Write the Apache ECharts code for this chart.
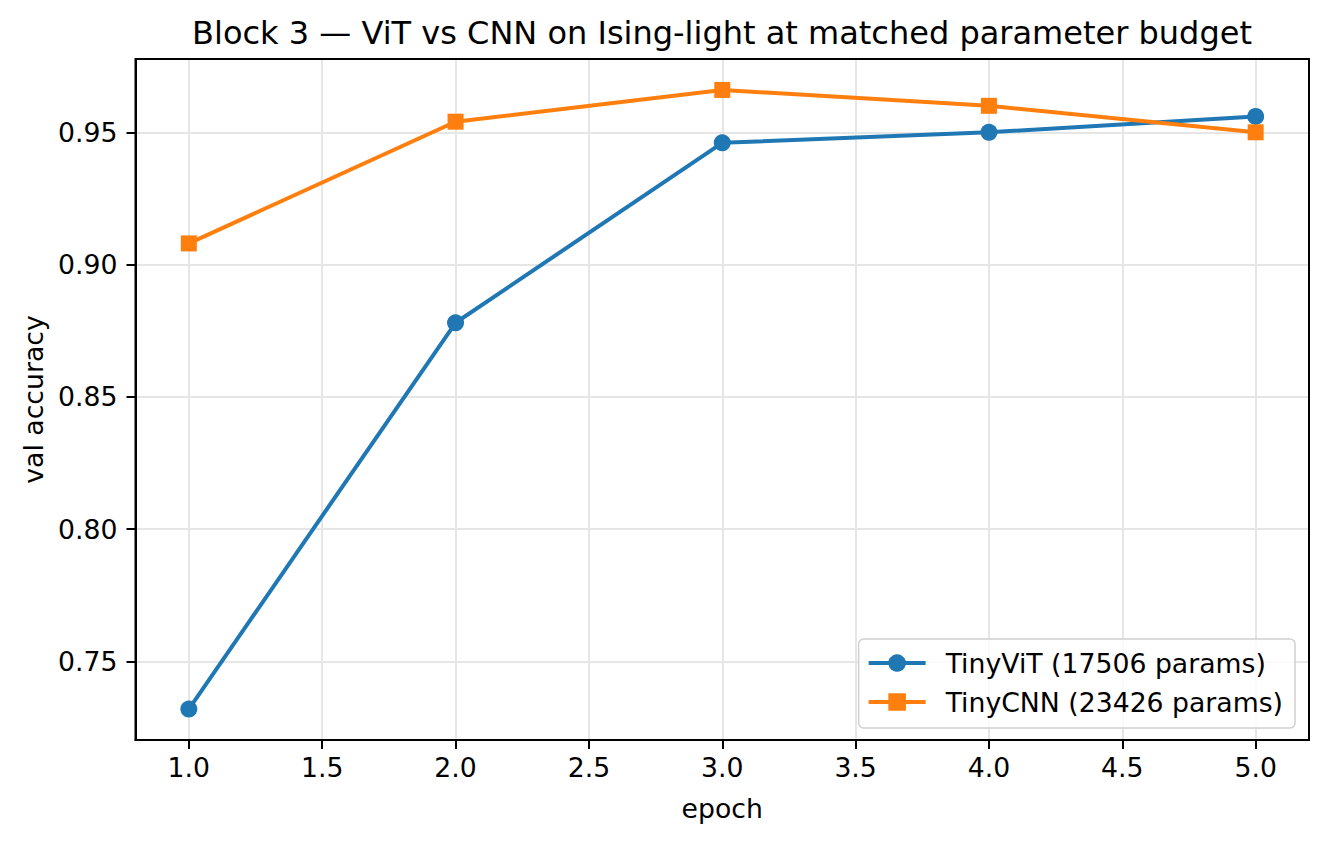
<!DOCTYPE html>
<html>
<head>
<meta charset="utf-8">
<script src="https://cdn.jsdelivr.net/npm/echarts@6/dist/echarts.min.js"></script>
<style>
  html, body { margin: 0; padding: 0; background: #fff; }
  #chart { width: 1327px; height: 843px; }
</style>
</head>
<body>
<div id="chart"></div>
<script>
var epochs = [1, 2, 3, 4, 5];
var vitAcc = [0.732, 0.878, 0.946, 0.950, 0.956];
var cnnAcc = [0.908, 0.954, 0.966, 0.960, 0.950];
var xTicks = [1.0, 1.5, 2.0, 2.5, 3.0, 3.5, 4.0, 4.5, 5.0];
var yTicks = [0.75, 0.80, 0.85, 0.90, 0.95];
var seriesNames = ['TinyViT (17506 params)', 'TinyCNN (23426 params)'];

(function() {
  var font = 'DejaVu Sans';
  var blue = '#1f77b4';
  var orange = '#ff7f0e';
  var gridColor = '#e6e6e6';

  // matplotlib style 5% margins
  function pad(lo, hi) {
    var d = (hi - lo) * 0.05;
    return [lo - d, hi + d];
  }
  var xr = pad(Math.min.apply(null, epochs), Math.max.apply(null, epochs));
  var all = vitAcc.concat(cnnAcc);
  var yr = pad(Math.min.apply(null, all), Math.max.apply(null, all));

  function pairs(ys) {
    return epochs.map(function(x, i) { return [x, ys[i]]; });
  }

  var chart = echarts.init(document.getElementById('chart'), null, { renderer: 'svg' });
  chart.setOption({
    animation: false,
    backgroundColor: '#fff',
    textStyle: { fontFamily: font, color: '#000' },
    title: {
      text: 'Block 3 \u2014 ViT vs CNN on Ising-light at matched parameter budget',
      left: 717,
      textAlign: 'center',
      top: 12,
      textStyle: { fontFamily: font, fontSize: 32, fontWeight: 'normal', color: '#000' }
    },
    legend: {
      orient: 'vertical',
      right: 32,
      bottom: 115,
      itemWidth: 57,
      itemHeight: 22,
      itemGap: 11,
      padding: [10, 12, 12, 8],
      backgroundColor: 'rgba(255,255,255,0.8)',
      borderColor: '#d0d0d0',
      borderWidth: 1.5,
      borderRadius: 5,
      lineStyle: { width: 4 },
      textStyle: { fontFamily: font, fontSize: 26.7, lineHeight: 28, color: '#000', padding: [0, 0, 0, 15] },
      data: seriesNames
    },
    grid: { left: 135.5, right: 18, top: 59, bottom: 103 },
    xAxis: {
      type: 'value',
      min: xr[0],
      max: xr[1],
      name: 'epoch',
      nameLocation: 'middle',
      nameGap: 55,
      nameTextStyle: { fontFamily: font, fontSize: 26.7, color: '#000' },
      axisLine: { show: true, onZero: false, lineStyle: { color: '#000', width: 2 } },
      axisTick: { show: true, length: 9, customValues: xTicks, lineStyle: { color: '#000', width: 2 } },
      axisLabel: {
        customValues: xTicks,
        margin: 14,
        fontFamily: font, fontSize: 26.7, color: '#000',
        formatter: function(v) { return v.toFixed(1); }
      },
      splitLine: { show: true, lineStyle: { color: gridColor, width: 2 } }
    },
    yAxis: {
      type: 'value',
      min: yr[0],
      max: yr[1],
      name: 'val accuracy',
      nameLocation: 'middle',
      nameGap: 87,
      nameTextStyle: { fontFamily: font, fontSize: 26.7, color: '#000' },
      axisLine: { show: true, onZero: false, lineStyle: { color: '#000', width: 2 } },
      axisTick: { show: true, length: 9, customValues: yTicks, lineStyle: { color: '#000', width: 2 } },
      axisLabel: {
        customValues: yTicks,
        margin: 18,
        fontFamily: font, fontSize: 26.7, color: '#000',
        formatter: function(v) { return v.toFixed(2); }
      },
      splitLine: { show: true, lineStyle: { color: gridColor, width: 2 } }
    },
    series: [
      {
        name: seriesNames[0],
        type: 'line',
        data: pairs(vitAcc),
        symbol: 'circle',
        symbolSize: 17,
        itemStyle: { color: blue },
        lineStyle: { color: blue, width: 4 },
        z: 3
      },
      {
        name: seriesNames[1],
        type: 'line',
        data: pairs(cnnAcc),
        symbol: 'rect',
        symbolSize: 16,
        itemStyle: { color: orange },
        lineStyle: { color: orange, width: 4 },
        z: 4
      }
    ]
  });
  // frame top/right like matplotlib spines
  chart.setOption({
    graphic: [{
      type: 'rect',
      shape: { x: 135.5, y: 59, width: 1327 - 18 - 135.5, height: 843 - 103 - 59 },
      style: { fill: 'none', stroke: '#000', lineWidth: 2 },
      silent: true,
      z: 10
    }]
  });
})();
</script>
</body>
</html>
